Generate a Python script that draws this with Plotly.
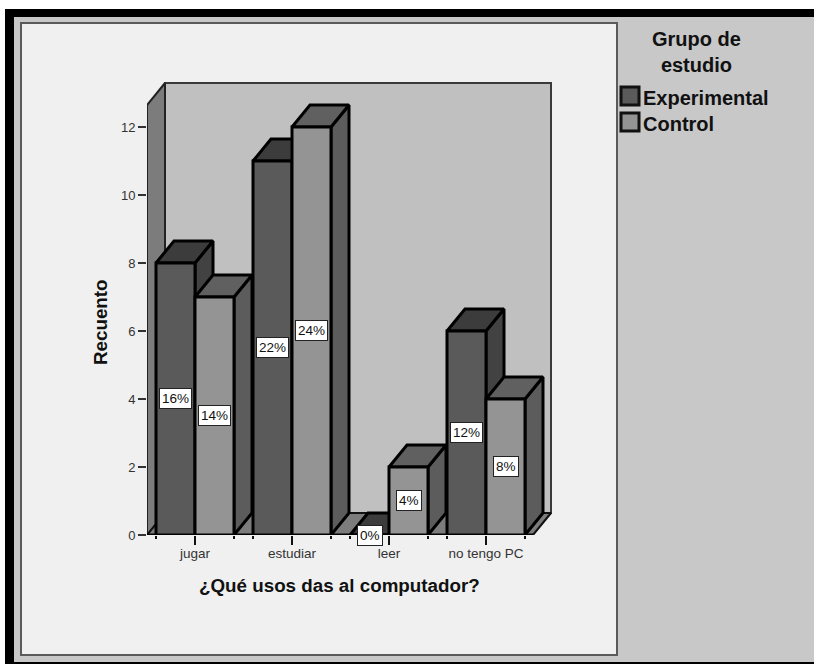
import plotly.graph_objects as go

categories = ["jugar", "estudiar", "leer", "no tengo PC"]
experimental = [8, 11, 0, 6]
control = [7, 12, 2, 4]
pct_experimental = ["16%", "22%", "0%", "12%"]
pct_control = ["14%", "24%", "4%", "8%"]
y_ticks = [0, 2, 4, 6, 8, 10, 12]

W, H = 814, 664
X0, STEP = 195.0, 97.0
Y0, UNIT = 535.0, 34.0
BAR = 39.0 / STEP
DX, DY = 18.0 / STEP, 22.0 / UNIT
PLOT_L, PLOT_R, PLOT_T = 147.0, 553.0, 80.0
XR = [(PLOT_L - X0) / STEP, (PLOT_R - X0) / STEP]
YR = [0, (Y0 - PLOT_T) / UNIT]
FLOOR_L, FLOOR_R = XR[0], (533.0 - X0) / STEP
WALL_TOP = (Y0 - 105.0) / UNIT

EXP_FRONT, EXP_TOP, EXP_SIDE = "#5a5a5a", "#3c3c3c", "#424242"
CTL_FRONT, CTL_TOP, CTL_SIDE = "#949494", "#606060", "#5c5c5c"
LINE = "#000000"
fig = go.Figure()


def poly(xs, ys, fill, lw=3, color=LINE):
    fig.add_trace(go.Scatter(x=xs + xs[:1], y=ys + ys[:1], mode="lines", fill="toself",
                             fillcolor=fill, line=dict(color=color, width=lw),
                             showlegend=False, hoverinfo="skip", cliponaxis=False))


# box: back wall, left wall, floor
poly([FLOOR_L + DX, FLOOR_R + DX, FLOOR_R + DX, FLOOR_L + DX], [DY, DY, WALL_TOP + DY, WALL_TOP + DY], "#c0c0c0", 2, "#3a3a3a")
poly([FLOOR_L, FLOOR_L + DX, FLOOR_L + DX, FLOOR_L], [0, DY, WALL_TOP + DY, WALL_TOP], "#7c7c7c", 2, "#222222")
poly([FLOOR_L, FLOOR_R, FLOOR_R + DX, FLOOR_L + DX], [0, 0, DY, DY], "#7c7c7c", 2, "#111111")

# depth faces, back to front
for i in range(len(categories)):
    for vals, off, top, side in ((experimental, -BAR, EXP_TOP, EXP_SIDE), (control, 0.0, CTL_TOP, CTL_SIDE)):
        v = vals[i]
        l, r = i + off, i + off + BAR
        poly([r, r + DX, r + DX, r], [0, DY, v + DY, v], side)
        poly([l, r, r + DX, l + DX], [v, v, v + DY, v + DY], top)

fig.add_trace(go.Scatter(x=[FLOOR_L, FLOOR_R], y=[0, 0], mode="lines", line=dict(color=LINE, width=3),
                         showlegend=False, hoverinfo="skip", cliponaxis=False))

# front faces on an overlaid pair of axes so they sit above the depth faces
x_pos = list(range(len(categories)))
for name, vals, col in (("Experimental", experimental, EXP_FRONT), ("Control", control, CTL_FRONT)):
    fig.add_trace(go.Bar(x=x_pos, y=vals, name=name, xaxis="x2", yaxis="y2",
                         marker=dict(color=col, line=dict(color=LINE, width=3)),
                         showlegend=False, cliponaxis=False))

edges = []
for i in x_pos:
    edges += [i - BAR, i + BAR]

annotations = []
for i in x_pos:
    for vals, pct, off in ((experimental, pct_experimental, -BAR / 2), (control, pct_control, BAR / 2)):
        annotations.append(dict(x=i + off, y=vals[i] / 2, xref="x2", yref="y2", text=pct[i], showarrow=False,
                                xanchor="center", yanchor="middle",
                                bgcolor="#ffffff", bordercolor="#222222", borderwidth=1, borderpad=2,
                                font=dict(family="Liberation Sans", size=13.5, color="#111111")))


def px(x):
    return x / W


def py(y):
    return 1 - y / H


def rect(x0, y0, x1, y1, fill, line=None, lw=0):
    return dict(type="rect", xref="paper", yref="paper", x0=px(x0), x1=px(x1), y0=py(y0), y1=py(y1),
                fillcolor=fill, line=dict(color=line or fill, width=lw), layer="below")


def label(x, y, text, size, **kw):
    return dict(x=px(x), y=py(y), xref="paper", yref="paper", text=text, showarrow=False,
                xanchor=kw.pop("xanchor", "center"), yanchor="middle",
                font=dict(family="Liberation Sans", size=size, color="#111111"), **kw)


shapes = [
    rect(5, 9, 814, 664, "#000000"),
    rect(14, 17, 814, 662, "#c8c8c8"),
    rect(21, 23, 617, 655, "#f0f0f0", "#5a5a5a", 2),
    rect(621, 87, 639, 105, EXP_FRONT, "#111111", 3),
    rect(621, 113, 639, 131, CTL_FRONT, "#111111", 3),
]

annotations += [
    label(696, 52, "<b>Grupo de<br>estudio</b>", 20, align="center"),
    label(641, 98, "<b>Experimental</b>", 20, xanchor="left"),
    label(641, 124, "<b>Control</b>", 20, xanchor="left"),
    label(339, 585, "<b>¿Qué usos das al computador?</b>", 18.8),
    label(100, 322, "<b>Recuento</b>", 18.8, textangle=-90),
]

dom_x = [PLOT_L / W, PLOT_R / W]
dom_y = [1 - Y0 / H, 1 - PLOT_T / H]
fig.update_layout(
    width=W, height=H, autosize=False, margin=dict(l=0, r=0, t=0, b=0, pad=0, autoexpand=False),
    paper_bgcolor="#ffffff", plot_bgcolor="rgba(0,0,0,0)", showlegend=False,
    barmode="group", bargap=1 - 2 * BAR, bargroupgap=0,
    shapes=shapes, annotations=annotations,
    xaxis=dict(domain=dom_x, range=XR, automargin=False, showgrid=False, zeroline=False, showline=False, tickmode="array",
               tickvals=x_pos, ticktext=categories, ticks="outside", ticklen=9, tickwidth=2, tickcolor="#111111",
               ticklabelstandoff=-3,
               tickfont=dict(family="Liberation Sans", size=13.5, color="#333333"),
               minor=dict(tickmode="array", tickvals=edges, ticks="outside", ticklen=3, tickwidth=2, tickcolor="#111111")),
    yaxis=dict(domain=dom_y, range=YR, automargin=False, showgrid=False, zeroline=False, showline=False, tickmode="array",
               tickvals=y_ticks, ticks="outside", ticklen=8, tickwidth=2, tickcolor="#333333",
               tickfont=dict(family="Liberation Sans", size=13, color="#333333")),
    xaxis2=dict(domain=dom_x, range=XR, overlaying="x", visible=False, automargin=False),
    yaxis2=dict(domain=dom_y, range=YR, overlaying="y", visible=False, automargin=False),
)

fig.write_html("out.html", config=dict(displayModeBar=False),
               post_script="document.body.style.margin='0';document.documentElement.style.overflow='hidden';")
